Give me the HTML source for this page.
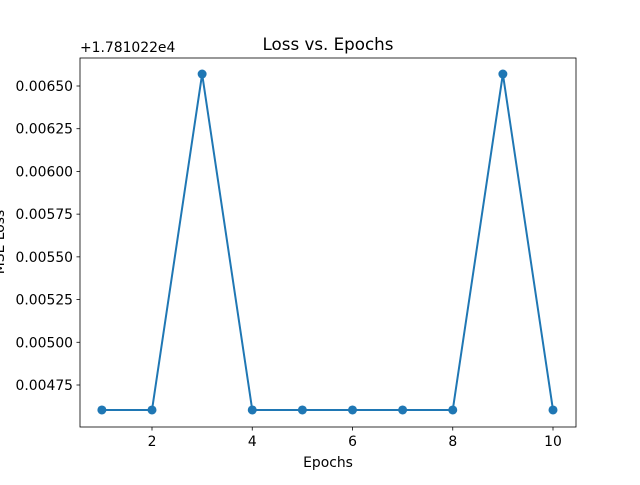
<!DOCTYPE html>
<html><head><meta charset="utf-8"><style>
body{margin:0;background:#fff;font-family:"Liberation Sans","DejaVu Sans",sans-serif}
svg text{font-family:"DejaVu Sans","Liberation Sans",sans-serif;}
</style></head><body>
<svg id="chart" width="640" height="480" xmlns="http://www.w3.org/2000/svg">
<rect width="640" height="480" fill="#fff"/>
<g id="plot"></g>
</svg>
<script>
const epochs=[1,2,3,4,5,6,7,8,9,10];
const lossOffset=[0.004604,0.004604,0.006570,0.004604,0.004604,0.004604,0.004604,0.004604,0.006570,0.004604];
const xTicks=[2,4,6,8,10];
const yTicks=[0.00475,0.00500,0.00525,0.00550,0.00575,0.00600,0.00625,0.00650];
const yTickLabels=["0.00475","0.00500","0.00525","0.00550","0.00575","0.00600","0.00625","0.00650"];
const L=80,R=576,T=58,B=427;
const x=v=>152+(v-2)*(553-152)/8;
const y=v=>385-(v-0.00475)/0.00025*(385-86)/7;
const ns="http://www.w3.org/2000/svg";
const g=document.getElementById('plot');
function mk(t,a,txt){const e=document.createElementNS(ns,t);for(const k in a)e.setAttribute(k,a[k]);if(txt!==undefined)e.textContent=txt;g.appendChild(e);return e;}
let fr=mk('rect',{x:L,y:T,width:R-L,height:B-T,fill:'none',stroke:'#000','stroke-width':0.8});

xTicks.forEach(v=>{
 let l=mk('line',{x1:x(v),x2:x(v),y1:B,y2:B+3.5,stroke:'#000','stroke-width':0.8});
 
 let t=mk('text',{x:x(v),y:B+19,'font-size':13.9,'text-anchor':'middle'},String(v));
 
});
yTicks.forEach((v,i)=>{
 let l=mk('line',{x1:L-3.5,x2:L,y1:y(v),y2:y(v),stroke:'#000','stroke-width':0.8});
 
 let t=mk('text',{x:L-7,y:y(v)+5,'font-size':13.9,'text-anchor':'end'},yTickLabels[i]);
 
});
let p=mk('polyline',{points:epochs.map((e,i)=>x(e)+','+y(lossOffset[i])).join(' '),fill:'none',stroke:'#1f77b4','stroke-width':2});

epochs.forEach((e,i)=>{
 let c=mk('circle',{cx:x(e),cy:y(lossOffset[i]),r:4.5,fill:'#1f77b4'});
 
});
let tt=mk('text',{x:(L+R)/2,y:T-8,'font-size':16.7,'text-anchor':'middle'},'Loss vs. Epochs');

let xl=mk('text',{x:(L+R)/2,y:467,'font-size':13.9,'text-anchor':'middle'},'Epochs');

let yl=mk('text',{x:0,y:0,'font-size':13.9,'text-anchor':'middle',transform:'translate(4,242) rotate(-90)'},'MSE Loss');

let off=mk('text',{x:L,y:T-6,'font-size':13.9},'+1.781022e4');

</script>
</body></html>
